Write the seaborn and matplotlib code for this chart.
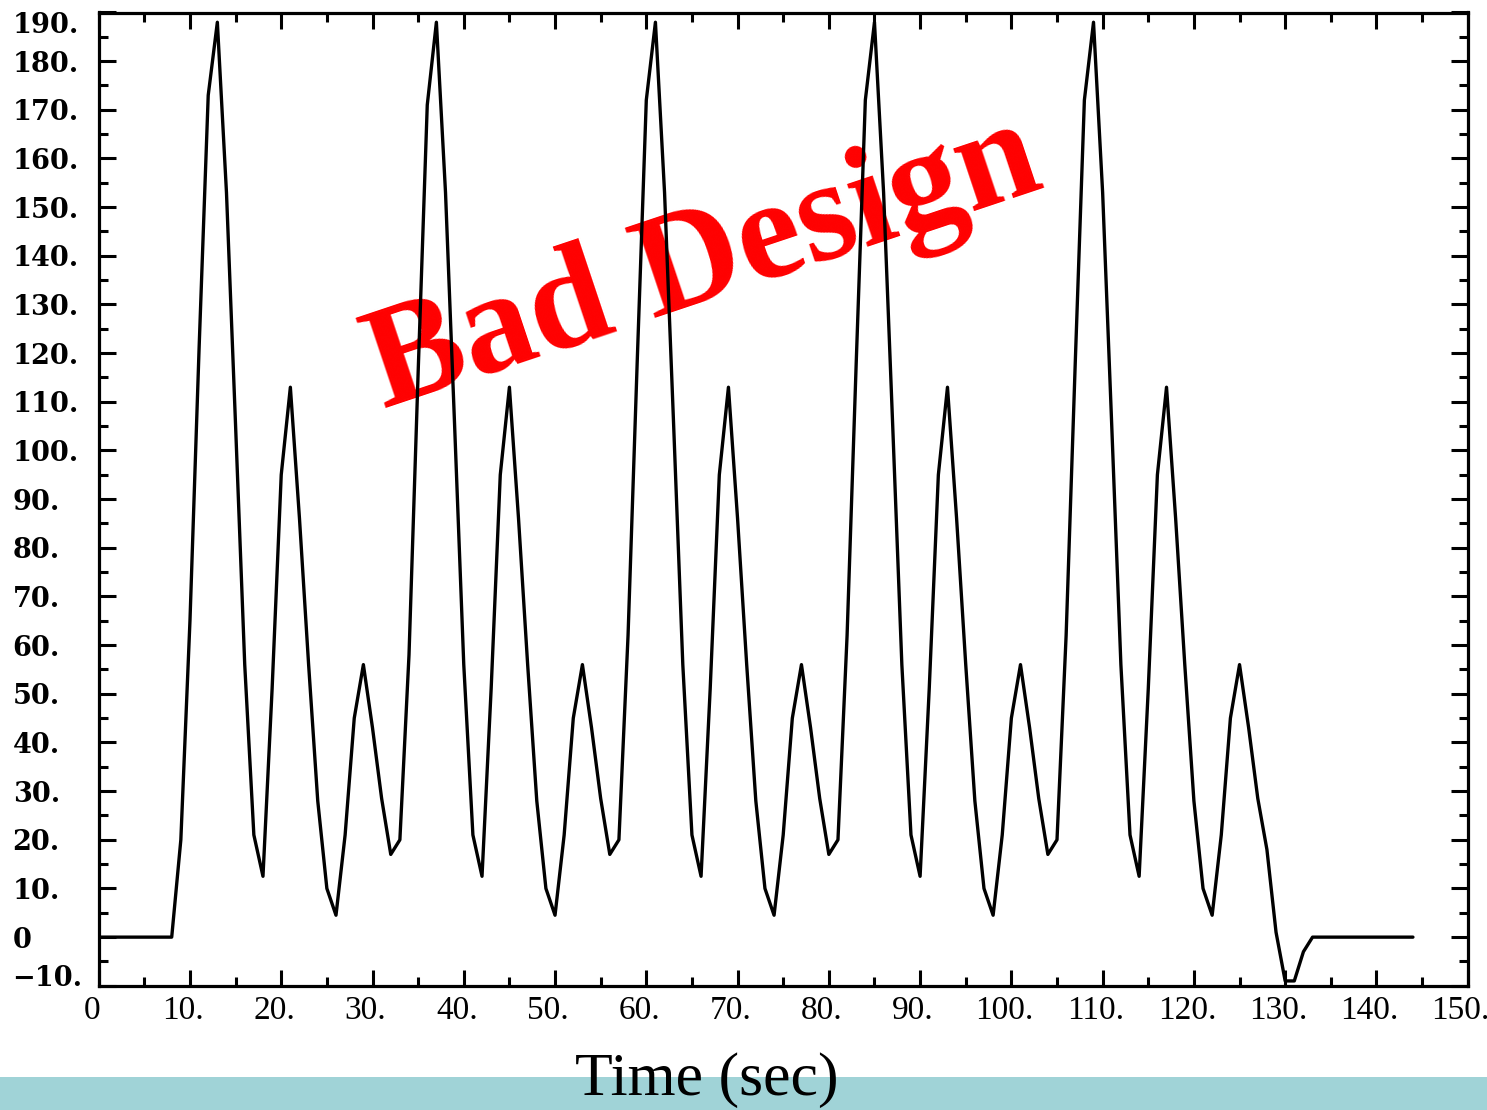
import numpy as np
import pandas as pd
import matplotlib
matplotlib.use("Agg")
import matplotlib.pyplot as plt
import seaborn as sns
from matplotlib.ticker import MultipleLocator
from matplotlib.transforms import ScaledTranslation
from matplotlib.patches import Rectangle

# ---------------- data ----------------
time_sec = list(range(0, 145))
signal = [
    0, 0, 0, 0, 0, 0, 0, 0, 0,                                   # 0-8
    20, 65, 121, 173, 188, 153, 105, 56, 21, 12.5,               # 9-18
    51, 95, 113, 86, 56, 28, 10, 4.5, 21, 45, 56, 43, 28.5, 17,  # 19-32
    20, 58, 116, 171, 188, 153, 105, 56, 21, 12.5,               # 33-42
    51, 95, 113, 86, 56, 28, 10, 4.5, 21, 45, 56, 43, 28.5, 17,  # 43-56
    20, 62, 118, 172, 188, 153, 105, 56, 21, 12.5,               # 57-66
    51, 95, 113, 86, 56, 28, 10, 4.5, 21, 45, 56, 43, 28.5, 17,  # 67-80
    20, 62, 118, 172, 188, 153, 105, 56, 21, 12.5,               # 81-90
    51, 95, 113, 86, 56, 28, 10, 4.5, 21, 45, 56, 43, 28.5, 17,  # 91-104
    20, 62, 118, 172, 188, 153, 105, 56, 21, 12.5,               # 105-114
    51, 95, 113, 86, 56, 28, 10, 4.5, 21, 45, 56,                # 115-125
    43, 28.5, 18, 1, -9, -9, -3,                                 # 126-132
    0, 0, 0, 0, 0, 0, 0, 0, 0, 0, 0, 0,                          # 133-144
]

x_ticks = list(range(0, 151, 10))
x_tick_labels = ["0"] + [f"{v}." for v in range(10, 151, 10)]
y_ticks = list(range(-10, 191, 10))
y_tick_labels = ["\u221210.", "0"] + [f"{v}." for v in range(10, 191, 10)]

x_title = "Time (sec)"
stamp_text = "Bad Design"

# ---------------- figure ----------------
sns.set_theme(style="white")
plt.rcParams["font.family"] = ["DejaVu Serif", "DejaVu Sans"]

W, H = 1487, 1110
fig = plt.figure(figsize=(W / 100, H / 100), dpi=100)
fig.patch.set_facecolor("white")

ax = fig.add_axes([98.7 / W, 1 - 985.8 / H, 1369 / W, 973.3 / H])

df = pd.DataFrame({"t": time_sec, "v": signal})
sns.lineplot(data=df, x="t", y="v", ax=ax, color="black", linewidth=2.4,
             zorder=3, estimator=None)

ax.set_xlim(0, 150)
ax.set_ylim(-10, 190)
ax.set_xlabel("")
ax.set_ylabel("")

for s in ax.spines.values():
    s.set_visible(True)
    s.set_linewidth(2.3)
    s.set_color("black")

ax.set_xticks(x_ticks)
ax.set_xticklabels(x_tick_labels)
ax.set_yticks(y_ticks)
ax.set_yticklabels(y_tick_labels)
ax.xaxis.set_minor_locator(MultipleLocator(5))
ax.yaxis.set_minor_locator(MultipleLocator(5))

ax.tick_params(axis="both", which="both", direction="in", top=True, right=True,
               bottom=True, left=True, color="black", width=2.2,
               labelcolor="black")
ax.tick_params(axis="x", which="major", length=11.5, pad=7)
ax.tick_params(axis="y", which="major", length=12.5, pad=62)
ax.tick_params(axis="both", which="minor", length=6.8)

shift = ScaledTranslation(-0.07, 0, fig.dpi_scale_trans)
for lab in ax.get_xticklabels():
    lab.set_fontfamily(["Liberation Serif", "DejaVu Serif"])
    lab.set_fontsize(24)
    lab.set_transform(lab.get_transform() + shift)

ylabs = ax.get_yticklabels()
for lab in ylabs:
    lab.set_fontfamily(["DejaVu Serif"])
    lab.set_fontweight("bold")
    lab.set_fontsize(19.5)
    lab.set_horizontalalignment("left")
ylabs[-1].set_verticalalignment("top")
ylabs[0].set_verticalalignment("baseline")

# red stamp text, under the curve
ax.text(384 / W, 1 - 409 / H, stamp_text, transform=fig.transFigure,
        fontsize=103.5, fontweight="bold", family=["Liberation Serif"],
        color="#FF0000", rotation=18.5, rotation_mode="anchor",
        ha="left", va="baseline", zorder=1.5)

# bottom teal band and axis title
fig.add_artist(Rectangle((0, 0), 1, (H - 1076.7) / H, transform=fig.transFigure,
                         facecolor="#A0D3D7", edgecolor="none", zorder=0))
fig.text(575 / W, 1 - 1095 / H, x_title, fontsize=44.5,
         family=["Liberation Serif"], color="black",
         ha="left", va="baseline", zorder=5)

fig.savefig("out.png", dpi=100)
